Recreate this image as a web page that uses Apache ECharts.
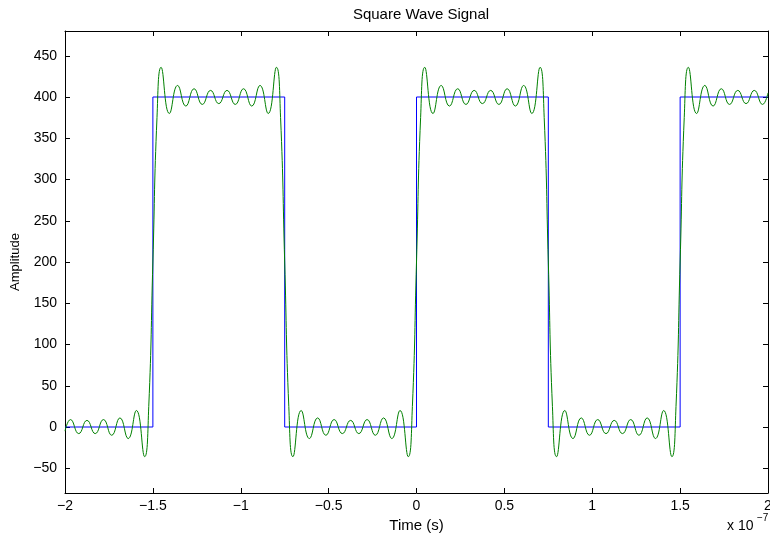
<!DOCTYPE html>
<html>
<head>
<meta charset="utf-8">
<script src="https://cdn.jsdelivr.net/npm/echarts@6/dist/echarts.min.js"></script>
<style>
  html, body { margin: 0; padding: 0; background: #fff; }
  #chart { width: 770px; height: 533px; }
</style>
</head>
<body>
<div id="chart"></div>
<script>
// Time axis in units of 1e-7 s
const xTicks = [-2, -1.5, -1, -0.5, 0, 0.5, 1, 1.5, 2];
const yTicks = [-50, 0, 50, 100, 150, 200, 250, 300, 350, 400, 450];

// Ideal square wave (0 / 400)
const squareTimes  = [-2, -1.5, -1.5, -0.75, -0.75, 0, 0, 0.75, 0.75, 1.5, 1.5, 2];
const squareValues = [0, 0, 400, 400, 0, 0, 400, 400, 0, 0, 400, 400];

// Band-limited reconstruction: ripple extrema and edge crossings
const fourierTimes = [
  -2, -1.96875, -1.921875, -1.875, -1.828125, -1.78125, -1.734375, -1.6875, -1.640625, -1.59375, -1.546875, -1.5234375, -1.5,
  -1.4765625, -1.453125, -1.40625, -1.359375, -1.3125, -1.265625, -1.21875, -1.171875, -1.125, -1.078125, -1.03125, -0.984375, -0.9375, -0.890625, -0.84375, -0.796875, -0.7734375, -0.75,
  -0.7265625, -0.703125, -0.65625, -0.609375, -0.5625, -0.515625, -0.46875, -0.421875, -0.375, -0.328125, -0.28125, -0.234375, -0.1875, -0.140625, -0.09375, -0.046875, -0.0234375, 0,
  0.0234375, 0.046875, 0.09375, 0.140625, 0.1875, 0.234375, 0.28125, 0.328125, 0.375, 0.421875, 0.46875, 0.515625, 0.5625, 0.609375, 0.65625, 0.703125, 0.7265625, 0.75,
  0.7734375, 0.796875, 0.84375, 0.890625, 0.9375, 0.984375, 1.03125, 1.078125, 1.125, 1.171875, 1.21875, 1.265625, 1.3125, 1.359375, 1.40625, 1.453125, 1.4765625, 1.5,
  1.5234375, 1.546875, 1.59375, 1.640625, 1.6875, 1.734375, 1.78125, 1.828125, 1.875, 1.921875, 1.96875, 2
];
const fourierValues = [
  -5, 9, -8, 8, -8, 9, -10, 11, -14, 20, -36, 25, 200,
  375, 436, 380, 414, 389, 410, 391, 408, 392, 408, 391, 410, 389, 414, 380, 436, 375, 200,
  25, -36, 20, -14, 11, -10, 9, -8, 8, -8, 9, -10, 11, -14, 20, -36, 25, 200,
  375, 436, 380, 414, 389, 410, 391, 408, 392, 408, 391, 410, 389, 414, 380, 436, 375, 200,
  25, -36, 20, -14, 11, -10, 9, -8, 8, -8, 9, -10, 11, -14, 20, -36, 25, 200,
  375, 436, 380, 414, 389, 410, 391, 408, 392, 408, 391, 405
];

const FONT = '"Liberation Sans", Arial, Helvetica, sans-serif';
const fmtNum = v => String(v).replace('-', '\u2212');

const pairs = (xs, ys) => xs.map((x, i) => [x, ys[i]]);

const chart = echarts.init(document.getElementById('chart'), null, { renderer: 'canvas' });

const frameLine = { show: true, onZero: false, lineStyle: { color: '#000', width: 1 } };
const inTick = { show: true, inside: true, length: 5, lineStyle: { color: '#000', width: 1 } };

chart.setOption({
  animation: false,
  backgroundColor: '#fff',
  title: {
    text: 'Square Wave Signal',
    left: 416, top: 2, textAlign: 'center',
    textStyle: { fontFamily: FONT, fontSize: 15, fontWeight: 'normal', color: '#000' }
  },
  grid: { left: 65, right: 2, top: 31, bottom: 40, containLabel: false, outerBoundsMode: 'none' },
  xAxis: [
    {
      type: 'value', position: 'bottom', min: -2, max: 2, interval: 0.5,
      axisLine: frameLine, axisTick: inTick, splitLine: { show: false },
      axisLabel: { formatter: fmtNum, fontFamily: FONT, fontSize: 14, color: '#000', margin: 6 },
      name: 'Time (s)', nameLocation: 'middle', nameGap: 22,
      nameTextStyle: { fontFamily: FONT, fontSize: 15, color: '#000' }
    },
    {
      type: 'value', position: 'top', min: -2, max: 2, interval: 0.5,
      axisLine: frameLine, axisTick: inTick, splitLine: { show: false },
      axisLabel: { show: false }
    }
  ],
  yAxis: [
    {
      type: 'value', position: 'left', min: -80, max: 480,
      axisLine: frameLine, splitLine: { show: false },
      axisTick: Object.assign({}, inTick, { customValues: yTicks }),
      axisLabel: { customValues: yTicks, formatter: fmtNum, fontFamily: FONT, fontSize: 14, color: '#000', margin: 8 },
      name: 'Amplitude', nameLocation: 'middle', nameGap: 42, nameRotate: 90,
      nameTextStyle: { fontFamily: FONT, fontSize: 13, color: '#000' }
    },
    {
      type: 'value', position: 'right', min: -80, max: 480,
      axisLine: frameLine, splitLine: { show: false },
      axisTick: Object.assign({}, inTick, { customValues: yTicks }),
      axisLabel: { show: false, customValues: yTicks }
    }
  ],
  series: [
    {
      type: 'line', xAxisIndex: 0, yAxisIndex: 0,
      data: pairs(squareTimes, squareValues),
      showSymbol: false, symbol: 'none',
      lineStyle: { color: '#0000ff', width: 1 }
    },
    {
      type: 'line', xAxisIndex: 0, yAxisIndex: 0,
      data: pairs(fourierTimes, fourierValues),
      showSymbol: false, symbol: 'none', smooth: 0.5,
      lineStyle: { color: '#008000', width: 1 }
    }
  ],
  graphic: [
    { type: 'text', left: 727, top: 519, style: { text: 'x 10', font: '14px ' + FONT, fill: '#000' } },
    { type: 'text', left: 757, top: 513, style: { text: '\u22127', font: '10px ' + FONT, fill: '#000' } }
  ]
});
</script>
</body>
</html>
